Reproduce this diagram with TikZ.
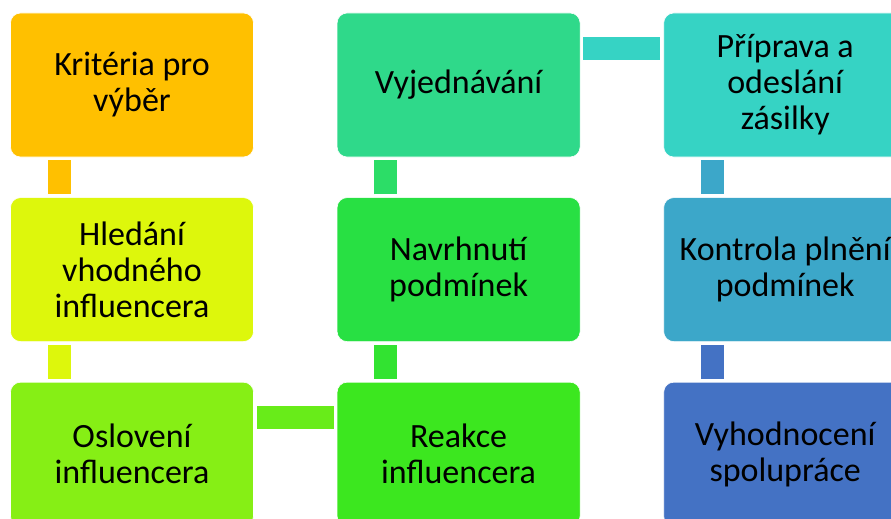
\documentclass[tikz,border=0pt]{standalone}
\usepackage{fontspec}
\setmainfont{Carlito}
\definecolor{stepA}{HTML}{FFC000}
\definecolor{stepB}{HTML}{DDF70C}
\definecolor{stepC}{HTML}{86EF15}
\definecolor{stepD}{HTML}{3CE71F}
\definecolor{stepE}{HTML}{28E043}
\definecolor{stepF}{HTML}{2FD98A}
\definecolor{stepG}{HTML}{36D3C4}
\definecolor{stepH}{HTML}{3CA7C9}
\definecolor{stepI}{HTML}{4472C4}
\usetikzlibrary{positioning}

\begin{document}
\begin{tikzpicture}[
  x=1pt, y=-1pt, node distance=40pt and 83pt,
  phase/.style={draw=white, line width=0.6pt, rounded corners=10pt,
                minimum width=243pt, minimum height=144pt, inner sep=2pt,
                align=center, text=black, font=\fontsize{34}{36}\selectfont},
  link/.style={line width=23pt, shorten <=3pt, shorten >=3pt}]
  \useasboundingbox (0,0) rectangle (891,519);
  % first column, top to bottom
  \node[phase, fill=stepA] (krit) at (132,85) {Kritéria pro\\výběr};
  \node[phase, fill=stepB, below=of krit] (hled) {Hledání\\vhodného\\influencera};
  \node[phase, fill=stepC, below=of hled] (oslo) {Oslovení\\influencera};
  % second column, bottom to top
  \node[phase, fill=stepD, right=of oslo] (reak) {Reakce\\influencera};
  \node[phase, fill=stepE, above=of reak] (navr) {Navrhnutí\\podmínek};
  \node[phase, fill=stepF, above=of navr] (vyje) {Vyjednávání};
  % third column, top to bottom
  \node[phase, fill=stepG, right=of vyje] (prip) {Příprava a\\odeslání\\zásilky};
  \node[phase, fill=stepH, below=of prip] (kont) {Kontrola plnění\\podmínek};
  \node[phase, fill=stepI, below=of kont] (vyho) {Vyhodnocení\\spolupráce};
  % connectors
  \draw[link, stepA] ([xshift=-73pt]krit.south) -- ([xshift=-73pt]hled.north);
  \draw[link, stepB] ([xshift=-73pt]hled.south) -- ([xshift=-73pt]oslo.north);
  \draw[link, stepC!60!stepD] ([yshift=36.5pt]oslo.east) -- ([yshift=36.5pt]reak.west);
  \draw[link, stepD!50!stepE] ([xshift=-73pt]reak.north) -- ([xshift=-73pt]navr.south);
  \draw[link, stepE!50!stepF] ([xshift=-73pt]navr.north) -- ([xshift=-73pt]vyje.south);
  \draw[link, stepG] ([yshift=36.5pt]vyje.east) -- ([yshift=36.5pt]prip.west);
  \draw[link, stepH] ([xshift=-73pt]prip.south) -- ([xshift=-73pt]kont.north);
  \draw[link, stepI] ([xshift=-73pt]kont.south) -- ([xshift=-73pt]vyho.north);
\end{tikzpicture}
\end{document}
